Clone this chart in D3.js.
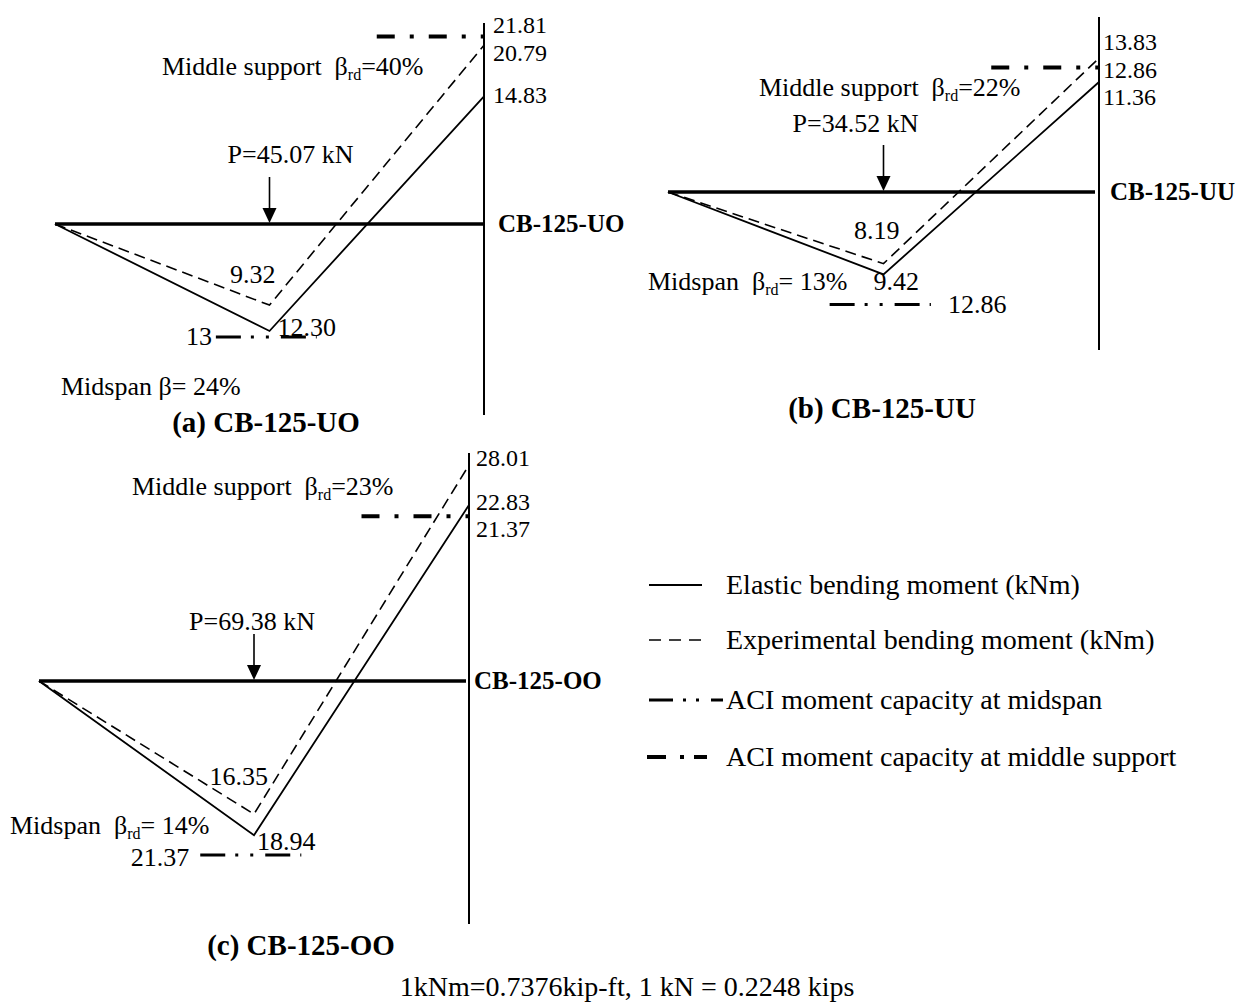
<!DOCTYPE html>
<html>
<head>
<meta charset="utf-8">
<script src="https://cdn.jsdelivr.net/npm/d3@7"></script>
<style>
  body { margin: 0; background: #fff; }
  svg text { font-family: "Liberation Serif", "Times New Roman", serif; fill: #000; white-space: pre; }
</style>
</head>
<body>
<svg id="chart" width="1254" height="1006"></svg>
<script>
'use strict';

// Specimens and values (kNm / kN)
const specimens = ["CB-125-UO", "CB-125-UU", "CB-125-OO"];
const panelLetters = ["a", "b", "c"];
const loads = [45.07, 34.52, 69.38];
const elasticSupport = [14.83, 11.36, 22.83];
const elasticMidspan = [12.30, 9.42, 18.94];
const expSupport = [20.79, 13.83, 28.01];
const expMidspan = [9.32, 8.19, 16.35];
const aciSupport = [21.81, 12.86, 21.37];
const aciMidspan = [13, 12.86, 21.37];
const betaSupport = [40, 22, 23];
const betaMidspan = [24, 13, 14];
const midspanHasRd = [false, true, true];
const loadPosition = 0.5;          // fraction of span
const aciSupportFrom = 0.75;       // fraction of span where support capacity line starts
const aciMidspanRange = [0.375, 0.61];
const legendLabels = [
	"Elastic bending moment (kNm)",
	"Experimental bending moment (kNm)",
	"ACI moment capacity at midspan",
	"ACI moment capacity at middle support"
];
const footnote = "1kNm=0.7376kip-ft, 1 kN = 0.2248 kips";

// Layout of the three panels (pixels)
const layout = [
	{left: 55, right: 484, base: 224, top: 23, bottom: 415, kPos: 8.6, kNeg: 8.7, lineEnd: 484,
	 lab: {aciS: [9, -3], expS: [9, 16], elS: [9, 7], expM: [6, -22], elM: [8, 5], aciM: [-4, 8],
	       support: [162, 75], midspan: [61, 395], load: [21, -14], tag: [498, 232], title: [266, 432]}},
	{left: 668, right: 1099, base: 192, top: 17, bottom: 350, kPos: 9.68, kNeg: 8.75, lineEnd: 1095,
	 lab: {aciS: [4, 10], expS: [4, -8], elS: [4, 23], expM: [16, -25], elM: [-10, 16], aciM: [17, 8],
	       support: [759, 96], midspan: [648, 290], load: [-28, -13], tag: [1110, 200], title: [882, 418]}},
	{left: 39, right: 469, base: 681, top: 453, bottom: 924, kPos: 7.71, kNeg: 8.14, lineEnd: 466,
	 lab: {aciS: [7, 21], expS: [7, 1], elS: [7, 5], expM: [14, -29], elM: [3, 15], aciM: [-11, 11],
	       support: [132, 495], midspan: [10, 834], load: [-2, -4], tag: [474, 689], title: [301, 955]}}
];

const svg = d3.select("#chart");
const fmt = (v) => (v % 1 === 0 ? String(v) : v.toFixed(2));
const FS = 26;      // general label size
const FS_SUP = 24;  // stacked values next to the support line

function betaLabel(g, x, y, prefix, withRd, rest){
	const t = g.append("text").attr("x", x).attr("y", y).attr("font-size", FS);
	t.append("tspan").text(prefix + "β");
	if (withRd) {
		t.append("tspan").attr("font-size", 16).attr("dy", 5).text("rd");
		t.append("tspan").attr("dy", -5).text(rest);
	} else {
		t.append("tspan").text(rest);
	}
}

function drawPanel(i){
	const L = layout[i];
	const g = svg.append("g").attr("class", "panel");
	const x = d3.scaleLinear().domain([0, 1]).range([L.left, L.right]);
	const y = d3.scaleLinear()
		.domain([-100, 0, 100])
		.range([L.base + 100 * L.kNeg, L.base, L.base - 100 * L.kPos]);
	const line = d3.line().x(d => x(d[0])).y(d => y(d[1]));

	// support line and beam axis
	g.append("line").attr("x1", x(1)).attr("x2", x(1)).attr("y1", L.top).attr("y2", L.bottom)
		.attr("stroke", "#000").attr("stroke-width", 2);
	g.append("line").attr("x1", x(0)).attr("x2", L.lineEnd).attr("y1", y(0)).attr("y2", y(0))
		.attr("stroke", "#000").attr("stroke-width", 3.4);

	const elastic = [[0, 0], [loadPosition, -elasticMidspan[i]], [1, elasticSupport[i]]];
	const experimental = [[0, 0], [loadPosition, -expMidspan[i]], [1, expSupport[i]]];

	g.append("path").attr("d", line(elastic)).attr("fill", "none")
		.attr("stroke", "#000").attr("stroke-width", 1.8);
	g.append("path").attr("d", line(experimental)).attr("fill", "none")
		.attr("stroke", "#000").attr("stroke-width", 1.6).attr("stroke-dasharray", "11,6");

	// ACI capacities
	g.append("line").attr("x1", x(aciSupportFrom)).attr("x2", x(1))
		.attr("y1", y(aciSupport[i])).attr("y2", y(aciSupport[i]))
		.attr("stroke", "#000").attr("stroke-width", 4).attr("stroke-dasharray", "18,15,4,15");
	g.append("line").attr("x1", x(aciMidspanRange[0])).attr("x2", x(aciMidspanRange[1]))
		.attr("y1", y(-aciMidspan[i])).attr("y2", y(-aciMidspan[i]))
		.attr("stroke", "#000").attr("stroke-width", 3).attr("stroke-dasharray", "25,10,3,12,3,12");

	// load arrow
	const ax = x(loadPosition), atop = y(0) - 47;
	g.append("line").attr("x1", ax).attr("x2", ax).attr("y1", atop).attr("y2", y(0) - 14)
		.attr("stroke", "#000").attr("stroke-width", 1.6);
	g.append("path").attr("d", `M${ax - 7},${y(0) - 16}L${ax + 7},${y(0) - 16}L${ax},${y(0) - 1}Z`)
		.attr("fill", "#000");
	g.append("text").attr("x", ax + L.lab.load[0]).attr("y", atop + L.lab.load[1])
		.attr("font-size", FS).attr("text-anchor", "middle").text("P=" + loads[i].toFixed(2) + " kN");

	// value labels
	const lab = L.lab;
	const addText = (px, py, txt, anchor, fs) => g.append("text").attr("x", px).attr("y", py)
		.attr("font-size", fs || FS).attr("text-anchor", anchor || "start").text(txt);
	addText(x(1) + lab.aciS[0], y(aciSupport[i]) + lab.aciS[1], fmt(aciSupport[i]), "start", FS_SUP);
	addText(x(1) + lab.expS[0], y(expSupport[i]) + lab.expS[1], fmt(expSupport[i]), "start", FS_SUP);
	addText(x(1) + lab.elS[0], y(elasticSupport[i]) + lab.elS[1], fmt(elasticSupport[i]), "start", FS_SUP);
	addText(x(loadPosition) + lab.expM[0], y(-expMidspan[i]) + lab.expM[1], fmt(expMidspan[i]), "end");
	addText(x(loadPosition) + lab.elM[0], y(-elasticMidspan[i]) + lab.elM[1], fmt(elasticMidspan[i]));
	if (i == 1) {
		addText(x(aciMidspanRange[1]) + lab.aciM[0], y(-aciMidspan[i]) + lab.aciM[1], fmt(aciMidspan[i]));
	} else {
		addText(x(aciMidspanRange[0]) + lab.aciM[0], y(-aciMidspan[i]) + lab.aciM[1], fmt(aciMidspan[i]), "end");
	}

	betaLabel(g, lab.support[0], lab.support[1], "Middle support  ", true, "=" + betaSupport[i] + "%");
	betaLabel(g, lab.midspan[0], lab.midspan[1], midspanHasRd[i] ? "Midspan  " : "Midspan ",
		midspanHasRd[i], "= " + betaMidspan[i] + "%");

	g.append("text").attr("x", lab.tag[0]).attr("y", lab.tag[1]).attr("font-size", 25)
		.attr("font-weight", "bold").text(specimens[i]);
	g.append("text").attr("x", lab.title[0]).attr("y", lab.title[1]).attr("font-size", 29)
		.attr("font-weight", "bold").attr("text-anchor", "middle")
		.text("(" + panelLetters[i] + ") " + specimens[i]);
}

specimens.forEach((s, i) => drawPanel(i));

// legend
const legendRows = [585, 640, 700, 757];
const legendStyles = [
	{x1: 649, x2: 702, w: 1.8, dash: null},
	{x1: 649, x2: 702, w: 1.6, dash: "12,8"},
	{x1: 649, x2: 723, w: 3, dash: "24,10,3,10,3,12"},
	{x1: 647, x2: 719, w: 4, dash: "19,14,4,10,13,14"}
];
const legend = svg.append("g").attr("class", "legend");
legendLabels.forEach((txt, i) => {
	const s = legendStyles[i];
	legend.append("line").attr("x1", s.x1).attr("x2", s.x2)
		.attr("y1", legendRows[i]).attr("y2", legendRows[i])
		.attr("stroke", "#000").attr("stroke-width", s.w)
		.attr("stroke-dasharray", s.dash);
	legend.append("text").attr("x", 726).attr("y", legendRows[i] + 9)
		.attr("font-size", 28).text(txt);
});

svg.append("text").attr("x", 627).attr("y", 996).attr("font-size", 28)
	.attr("text-anchor", "middle").text(footnote);
</script>
</body>
</html>
